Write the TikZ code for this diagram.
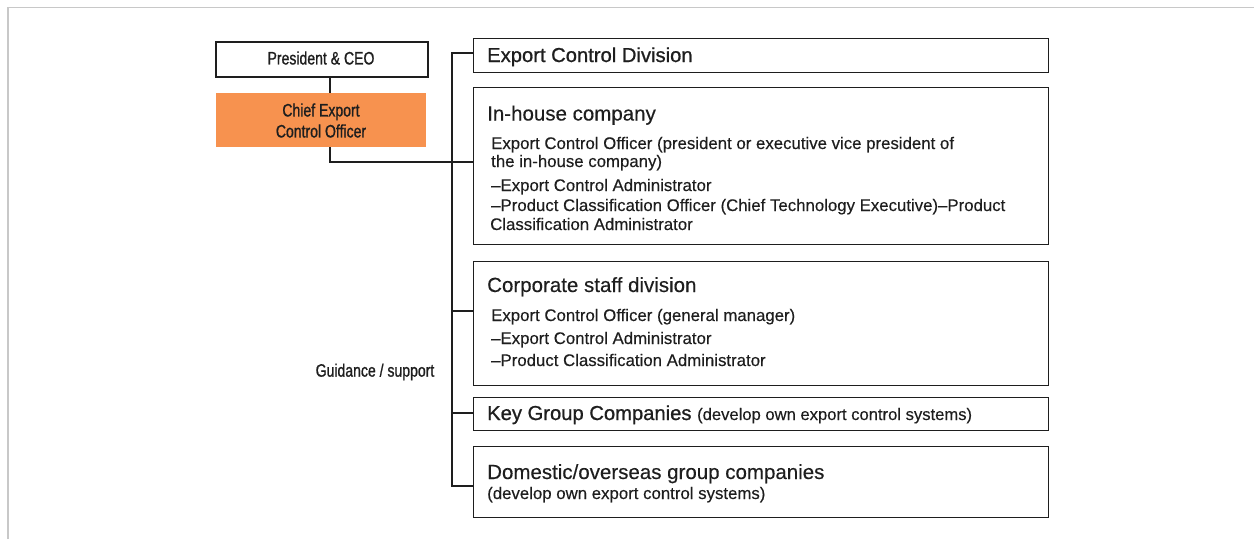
\documentclass[tikz,border=0pt]{standalone}
\usepackage{fontspec}
\setmainfont{Liberation Sans}[FakeBold=0.3]
\newfontfamily\condfont{Liberation Sans}[FakeStretch=0.78,FakeBold=1.0]
\newfontfamily\medfont{Liberation Sans}[FakeBold=0.9]
\definecolor{orangefill}{HTML}{F7924F}
\definecolor{framegray}{HTML}{C8C8C8}
\definecolor{ink}{HTML}{1E1E1E}
\begin{document}
\begin{tikzpicture}[x=1pt,y=-1pt,
  box/.style={draw=ink, line width=1.3pt, inner sep=0pt, anchor=north west, minimum width=575pt},
  ceobox/.style={draw=ink, line width=2.4pt, inner sep=0pt, anchor=north west},
  cxobox/.style={fill=orangefill, draw=none, inner sep=0pt, anchor=north west},
  condtxt/.style={font=\condfont\fontsize{18}{21}\selectfont, text=ink, inner sep=0pt, align=center},
  headtxt/.style={font=\fontsize{20.5}{24}\selectfont, text=ink, inner sep=0pt, anchor=base west},
  medhead/.style={font=\medfont\fontsize{20.2}{24}\selectfont, text=ink, inner sep=0pt, anchor=base west},
  bodytxt/.style={font=\fontsize{16.8}{19}\selectfont, text=ink, inner sep=0pt, anchor=base west},
  conn/.style={draw=ink, line width=1.3pt}
]
\useasboundingbox (0,0) rectangle (1254,539);
% frame
\draw[framegray, line width=1.8pt] (8,539) -- (8,7.5) -- (1254,7.5);

% left boxes
\node[ceobox, minimum width=212pt, minimum height=35pt] (ceo) at (215,41) {};
\node[condtxt] (ceotxt) at (321,58) {President \& CEO};
\node[cxobox, minimum width=210pt, minimum height=54pt] (cxo) at (216,93) {};
\node[condtxt] (cxotxt) at (321,120.5) {Chief Export\\Control Officer};
\node[condtxt] (guide) at (375,372) {Guidance / support};

% right boxes
\node[box, minimum height=34pt] (ecd) at (473,38) {};
\node[box, minimum height=157pt] (inh) at (473,87) {};
\node[box, minimum height=124pt] (corp) at (473,261) {};
\node[box, minimum height=33pt] (key) at (473,397) {};
\node[box, minimum height=71pt] (dom) at (473,446) {};

% texts
\node[medhead] (ecdh) at (487,62) {Export Control Division};
\node[headtxt] (inhh) at (487,120.5) {In-house company};
\node[bodytxt] (inh1) at (491,149) {Export Control Officer (president or executive vice president of};
\node[bodytxt] (inh2) at (491,167) {the in-house company)};
\node[bodytxt] (inh3) at (491,191) {–Export Control Administrator};
\node[bodytxt] (inh4) at (491,211) {–Product Classification Officer (Chief Technology Executive)–Product};
\node[bodytxt] (inh5) at (490,230) {Classification Administrator};
\node[headtxt] (corph) at (487,292) {Corporate staff division};
\node[bodytxt] (corp1) at (491,321) {Export Control Officer (general manager)};
\node[bodytxt] (corp2) at (491,344) {–Export Control Administrator};
\node[bodytxt] (corp3) at (491,366) {–Product Classification Administrator};
\node[medhead] (keyh) at (487,420) {Key Group Companies {\normalfont\fontsize{16.6}{19}\selectfont(develop own export control systems)}};
\node[headtxt] (domh) at (487,479) {Domestic/overseas group companies};
\node[bodytxt] (dom1) at (487,499) {(develop own export control systems)};

% connectors
\coordinate (j) at (330,162);
\coordinate (bt) at (452,53);
\coordinate (bb) at (452,486);
\coordinate (bc) at (452,311);
\coordinate (bk) at (452,413);
\draw[conn] (ceo.south -| j) -- (cxo.north -| j);
\draw[conn] (cxo.south -| j) -- (j) -- (inh.west |- j);
\draw[conn] (ecd.west |- bt) -- (bt) -- (bb) -- (dom.west |- bb);
\draw[conn] (bc) -- (corp.west |- bc);
\draw[conn] (bk) -- (key.west |- bk);
\end{tikzpicture}
\end{document}
